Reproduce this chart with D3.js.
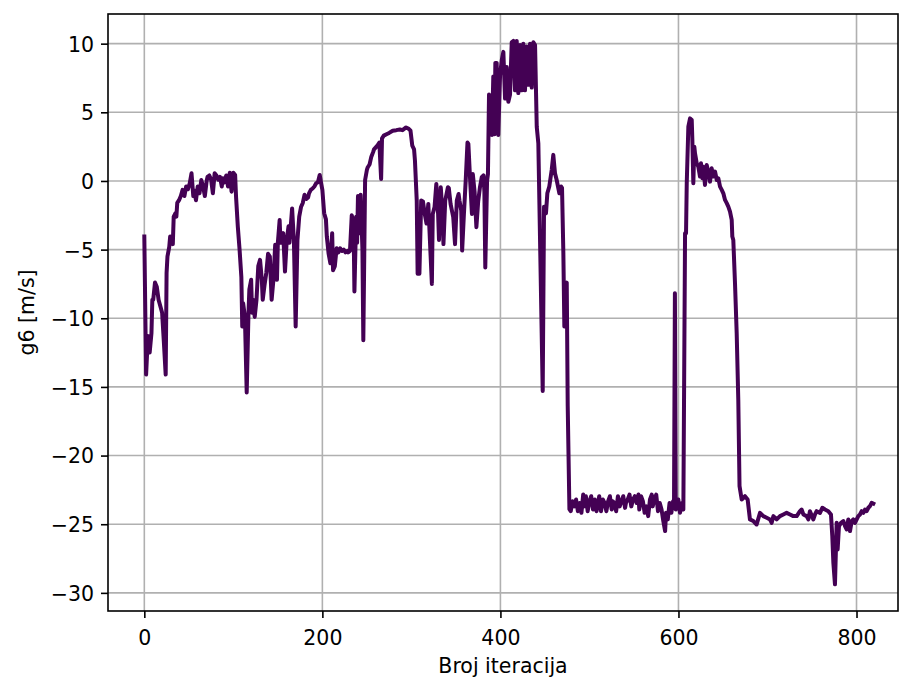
<!DOCTYPE html>
<html><head><meta charset="utf-8">
<script src="https://cdn.jsdelivr.net/npm/d3@7"></script>
<style>body{margin:0;background:#fff}svg{display:block}text{font-family:"DejaVu Sans",sans-serif}</style>
</head><body><svg id="c" width="899" height="683"></svg>
<script>
const xTicks = [0, 200, 400, 600, 800];
const yTicks = [-30, -25, -20, -15, -10, -5, 0, 5, 10];
const xLabel = "Broj iteracija";
const yLabel = "g6 [m/s]";
const iterA = [0,2,4,6,8,9,10,12,14,16,20,22,24,25,26,28,29,31,32,33,35,36,37,39,41,43,45,47,49,51,53,55,56,58,60,62,64,66,68,70,71,73,75,77,79,81,83,85,87,88,90,92,94,96,98,100,102,103,105,107,109,110,111,113,115,117,118,120,121,122,124,126,128,130,132,133,135,137,139,141,143,145,147,149,150,152,153,156,158,160,162,163,165,166,168,170,172,174,176,178,180,182,184,185,187,189,191,193,195,197,199,200,202,204,205,207,209,211,212,214,216,218,220,222,224,226,228,229,231,233,235,236,238,239,240,242,243,245,246,248,250];
const valA = [-4.05,-14.1,-11.3,-12.5,-11.1,-8.65,-8.65,-7.4,-7.7,-8.65,-9.6,-11.8,-14.1,-6.7,-5.5,-4.8,-4.05,-4.3,-4.6,-2.6,-2.35,-2.6,-1.6,-1.4,-1.1,-0.65,-1.1,-0.4,-0.6,-0.17,0.56,-1.1,-0.7,-1.4,-0.4,-0.9,0.07,-0.4,-1.1,0.0,0.3,0.4,0.1,-0.9,0.56,0.4,0.1,0.3,-0.4,0.2,-0.1,0.4,-0.4,0.6,-0.78,0.6,0.44,-1.1,-3.3,-5.0,-7.0,-10.6,-8.9,-9.9,-15.4,-9.6,-7.9,-7.2,-9.6,-8.65,-9.9,-8.65,-6.2,-5.75,-7.2,-8.65,-7.6,-6.7,-5.3,-5.5,-8.65,-7.2,-4.65,-7.2,-4.5,-2.85,-4.5,-3.8,-6.6,-4.3,-3.3,-4.5,-2.85,-2.0,-4.3,-10.6,-4.3,-2.6,-1.9,-1.6,-1.0,-1.3,-1.2,-0.9,-0.65,-0.55,-0.4,-0.17,-0.1,0.44,-0.3,-0.65,-2.35,-2.8,-4.05,-5.3,-6.0,-3.8,-6.5,-6.2,-4.9,-5.2,-4.9,-5.1,-5.0,-5.2,-5.1,-5.2,-5.1,-2.5,-3.0,-8.05,-2.6,-4.5,-1.1,-3.8,-1.0,-5.0,-11.6,0.07,0.8];
const iterB = [251,253,255,257,258,260,262,264,266,267,269,272,275,279,283,287,290,294,297,299,301,303,304,306,307,309,311,313,315,317,319,321,323,324,326,328,330,331,333,335,336,338,341,342,344,347,349,351,353,354,356,357,359,361,363,364,366,368,369,371,373,375,377,379,381,382,383,385,386];
const valB = [1.0,1.2,1.77,2.1,2.3,2.45,2.6,2.8,0.15,3.1,3.3,3.4,3.5,3.66,3.7,3.75,3.7,3.9,3.8,3.66,2.57,2.3,1.48,-1.43,-6.76,-6.76,-1.43,-1.5,-2.4,-3.1,-1.67,-4.6,-7.5,-2.4,-1.9,-0.22,-2.4,-4.3,-0.46,-2.4,-4.6,-1.43,-0.46,-0.5,-1.67,-2.64,-4.6,-1.43,-0.95,-1.43,-2.16,-5.07,-2.4,0.02,2.8,2.7,0.02,-2.4,0.5,-0.8,-3.37,-1.5,-0.46,0.27,0.4,-0.8,-6.3,0.0,0.5];
const iterC = [387.2,388.3,389.4,390.5,392.0,393.4,394.3,395.8,397.6,399.6,401.5,403.3,405.2,407.1,408.9,410.8,412.7,414.5,416.4,418.3,420.1,422.0,423.9,425.7,427.6,429.5,431.3,433.3,435.2,437.0,438.9,440.8,442.6,447.5,449.0,451.2,452.7,454.9,457.6,459.4,461.3,463.2,466.2,468.1,469.2,470.7,471.8,473.3,474.5,475.6,477.5];
const valC = [6.3,3.4,6.2,3.35,7.6,3.4,8.6,8.6,3.35,7.7,8.8,9.4,6.0,8.3,5.77,6.3,10.1,10.2,6.6,10.2,6.4,9.9,6.6,10.0,6.6,9.8,7.0,10.0,6.8,10.1,9.9,3.95,2.74,-15.3,-1.87,-2.35,-0.9,-0.4,0.8,1.9,0.56,0.07,-0.9,-0.4,-0.5,-5.25,-10.6,-7.7,-7.4,-16.4,-23.9];
const iterD = [479,481,483,485,487,489,491,493,494,496,498,500,502,504,506,508,510,511,513,515,517,519,521,523,525,526,528,530,532,534,536,538,540,541,543,545,547,549,551,553,555,556,558,560,562,564,566,568,570,571,573,575,577,579,581,583,585,586,588,590,592,594,595,596,597];
const valD = [-24.05,-23.32,-23.7,-23.2,-24.05,-23.45,-24.17,-22.84,-23.7,-22.96,-24.05,-23.32,-22.96,-23.93,-23.2,-24.05,-23.32,-22.96,-24.05,-23.2,-23.45,-24.05,-23.32,-22.96,-23.93,-23.32,-23.45,-24.05,-22.96,-23.7,-23.32,-22.96,-23.81,-23.45,-23.2,-22.84,-23.7,-23.2,-22.96,-23.45,-22.84,-23.93,-22.96,-23.32,-24.17,-23.7,-24.41,-23.2,-22.84,-23.7,-23.2,-22.84,-24.05,-23.45,-23.93,-24.78,-25.5,-24.17,-24.65,-23.45,-24.17,-23.32,-23.45,-8.17,-23.93];
const iterE = [599.8,601.7,604.0,605.5,607.4,608.5,609.3,611.1,613.0,614.9,615.6,616.7,617.8,618.6,620.5,622.3,624.2,625.3,626.8,627.9,629.8,631.7,633.5,635.4,637.3,639.2,641.1,643.0,644.8,646.7,648.6,650.4,652.3,654.2,656.0,657.9,659.8,660.5,661.6,663.5,665.4,667.2,668.6];
const valE = [-23.2,-24.17,-23.45,-23.93,-3.81,-3.81,-0.17,3.95,4.56,4.44,2.98,-0.17,2.5,2.01,1.29,1.04,0.32,1.29,0.19,1.04,-0.29,1.16,0.68,-0.05,0.92,0.32,0.68,0.07,0.19,-0.41,-0.65,-0.9,-1.38,-1.62,-1.87,-2.23,-2.84,-4.05,-4.3,-7.44,-11.08,-15.93,-22.23];
const iterF = [671.0,674.7,677.7,680.3,684.1,687.8,691.6,695.3,699.1,702.8,704.7,706.6,710.3,714.0,717.8,721.5,725.3,729.0,732.8,736.5,738.4,740.3,744.0,745.9,747.7,751.5,753.4,755.2,759.0,761.6,764.6,768.3,771.3,772.8,774.0,775.8,777.7,778.8,780.3,782.6,785.2,787.1,788.9,790.8,792.7,794.6,796.4,798.3,800.2,802.0,803.9,805.8,807.7,809.5,811.4,813.3,815.1,817.0,818.9];
const valF = [-23.2,-22.96,-23.2,-24.65,-24.77,-25.02,-24.17,-24.41,-24.53,-24.65,-24.9,-24.41,-24.65,-24.41,-24.29,-24.17,-24.29,-24.41,-24.41,-24.05,-23.93,-24.29,-24.41,-24.65,-24.05,-24.65,-24.29,-24.05,-24.17,-23.8,-23.93,-24.05,-24.29,-25.87,-27.81,-29.38,-24.9,-26.84,-25.14,-24.9,-24.77,-25.14,-25.38,-24.65,-25.5,-24.77,-24.65,-24.9,-24.65,-24.41,-24.29,-24.05,-24.17,-23.93,-24.05,-23.8,-23.68,-23.44,-23.5];

const iters = [].concat(iterA, iterB, iterC, iterD, iterE, iterF);
const vals = [].concat(valA, valB, valC, valD, valE, valF);
const data = d3.zip(iters, vals);

const L = 108, R = 898, T = 14, B = 611;
const FS = 20.5;
const svg = d3.select("#c");
const x = d3.scaleLinear().domain([-40.8, 846.6]).range([L, R]);
const y = d3.scaleLinear().domain([-31.32, 12.16]).range([B, T]);

// grid
svg.append("g").selectAll("line").data(xTicks).join("line")
  .attr("x1", d => x(d)).attr("x2", d => x(d)).attr("y1", T).attr("y2", B)
  .attr("stroke", "#b0b0b0").attr("stroke-width", 1.6);
svg.append("g").selectAll("line").data(yTicks).join("line")
  .attr("y1", d => y(d)).attr("y2", d => y(d)).attr("x1", L).attr("x2", R)
  .attr("stroke", "#b0b0b0").attr("stroke-width", 1.6);

// line
const line = d3.line().x(d => x(d[0])).y(d => y(d[1]));
svg.append("path").datum(data).attr("d", line)
  .attr("fill", "none").attr("stroke", "#440154").attr("stroke-width", 4)
  .attr("stroke-linejoin", "round").attr("stroke-linecap", "square");

// axes
const fmt = d => (d < 0 ? "\u2212" + Math.abs(d) : "" + d);
const xa = svg.append("g").attr("transform", `translate(0,${B})`)
  .call(d3.axisBottom(x).tickValues(xTicks).tickFormat(fmt).tickSize(7).tickPadding(7));
const ya = svg.append("g").attr("transform", `translate(${L},0)`)
  .call(d3.axisLeft(y).tickValues(yTicks).tickFormat(fmt).tickSize(7).tickPadding(7));
[xa, ya].forEach(g => {
  g.select(".domain").remove();
  g.selectAll("line").attr("stroke", "#000").attr("stroke-width", 1.6);
  g.selectAll("text").attr("font-size", FS).attr("fill", "#000").attr("font-family", "DejaVu Sans");
});
xa.selectAll("text").attr("dy", null).attr("y", 34);
ya.selectAll("text").attr("dy", "0.36em");
svg.append("rect").attr("x", L).attr("y", T).attr("width", R - L).attr("height", B - T)
  .attr("fill", "none").attr("stroke", "#000").attr("stroke-width", 1.6);

svg.append("text").attr("x", (L + R) / 2).attr("y", 673).attr("text-anchor", "middle")
  .attr("font-size", FS).text(xLabel);
svg.append("text").attr("transform", `translate(34,${(T + B) / 2}) rotate(-90)`)
  .attr("text-anchor", "middle").attr("font-size", FS).text(yLabel);
</script></body></html>
